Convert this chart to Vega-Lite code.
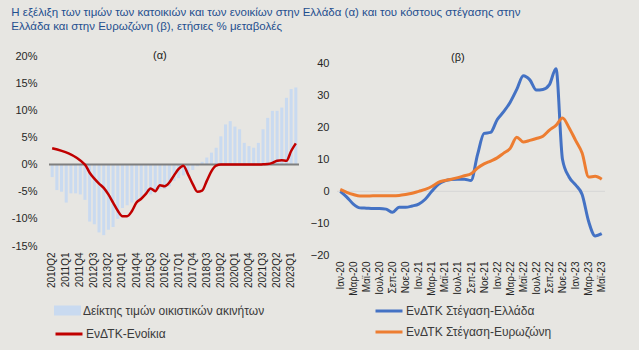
{
 "$schema": "https://vega.github.io/schema/vega-lite/v6.json",
 "background": "#e7e6e2",
 "padding": {"left": 11, "top": 6, "right": 33, "bottom": 10},
 "autosize": {"type": "pad"},
 "title": {"text": ["Η εξέλιξη των τιμών των κατοικιών και των ενοικίων στην Ελλάδα (α) και του κόστους στέγασης στην", "Ελλάδα και στην Ευρωζώνη (β), ετήσιες % μεταβολές"], "anchor": "start", "frame": "bounds", "font": "Liberation Sans", "fontSize": 11.5, "fontWeight": "normal", "color": "#1f4f8f", "lineHeight": 14, "offset": 18},
 "config": {"view": {"stroke": null}, "font": "Liberation Sans", "axis": {"labelColor": "#262626", "labelFont": "Liberation Sans", "labelOverlap": false}, "axisY": {"labelOverlap": false, "labelSeparation": 0}, "axisQuantitative": {"labelOverlap": false}, "legend": {"labelFont": "Liberation Sans", "labelColor": "#3a3a3a", "labelFontSize": 12, "padding": 0, "labelLimit": 0}},
 "spacing": 38,
 "bounds": "flush",
 "resolve": {"scale": {"color": "independent", "fill": "independent", "stroke": "independent"}},
 "datasets": {
  "prices": [
   {"q": "2010Q2", "v": -2.3}, {"q": "2010Q3", "v": -4.7}, {"q": "2010Q4", "v": -5.0}, {"q": "2011Q1", "v": -7.0},
   {"q": "2011Q2", "v": -5.3}, {"q": "2011Q3", "v": -5.3}, {"q": "2011Q4", "v": -5.5}, {"q": "2012Q1", "v": -6.5},
   {"q": "2012Q2", "v": -10.5}, {"q": "2012Q3", "v": -11.0}, {"q": "2012Q4", "v": -12.5}, {"q": "2013Q1", "v": -13.0},
   {"q": "2013Q2", "v": -12.0}, {"q": "2013Q3", "v": -11.5}, {"q": "2013Q4", "v": -10.0}, {"q": "2014Q1", "v": -8.0},
   {"q": "2014Q2", "v": -7.5}, {"q": "2014Q3", "v": -7.0}, {"q": "2014Q4", "v": -6.5}, {"q": "2015Q1", "v": -6.0},
   {"q": "2015Q2", "v": -5.5}, {"q": "2015Q3", "v": -5.5}, {"q": "2015Q4", "v": -5.0}, {"q": "2016Q1", "v": -4.5},
   {"q": "2016Q2", "v": -4.5}, {"q": "2016Q3", "v": -4.0}, {"q": "2016Q4", "v": -3.0}, {"q": "2017Q1", "v": -2.5},
   {"q": "2017Q2", "v": -2.0}, {"q": "2017Q3", "v": -1.5}, {"q": "2017Q4", "v": -1.0}, {"q": "2018Q1", "v": -0.3},
   {"q": "2018Q2", "v": 0.5}, {"q": "2018Q3", "v": 1.3}, {"q": "2018Q4", "v": 2.2}, {"q": "2019Q1", "v": 3.1},
   {"q": "2019Q2", "v": 5.2}, {"q": "2019Q3", "v": 7.4}, {"q": "2019Q4", "v": 8.0}, {"q": "2020Q1", "v": 7.0},
   {"q": "2020Q2", "v": 6.5}, {"q": "2020Q3", "v": 4.0}, {"q": "2020Q4", "v": 3.4}, {"q": "2021Q1", "v": 3.1},
   {"q": "2021Q2", "v": 4.0}, {"q": "2021Q3", "v": 6.5}, {"q": "2021Q4", "v": 8.6}, {"q": "2022Q1", "v": 9.9},
   {"q": "2022Q2", "v": 9.9}, {"q": "2022Q3", "v": 10.5}, {"q": "2022Q4", "v": 12.3}, {"q": "2023Q1", "v": 13.9},
   {"q": "2023Q2", "v": 14.2}
  ],
  "rents": [
   {"q": "2010Q2", "v": 3.0}, {"q": "2012Q1", "v": 0.0}, {"q": "2012Q2", "v": -1.5}, {"q": "2012Q3", "v": -2.6},
   {"q": "2012Q4", "v": -3.5}, {"q": "2013Q1", "v": -4.3}, {"q": "2013Q2", "v": -5.5}, {"q": "2013Q3", "v": -7.0},
   {"q": "2013Q4", "v": -8.5}, {"q": "2014Q1", "v": -9.5}, {"q": "2014Q2", "v": -9.5}, {"q": "2014Q3", "v": -8.6},
   {"q": "2014Q4", "v": -7.0}, {"q": "2015Q1", "v": -6.3}, {"q": "2015Q2", "v": -5.4}, {"q": "2015Q3", "v": -4.4},
   {"q": "2015Q4", "v": -4.9}, {"q": "2016Q1", "v": -3.8}, {"q": "2016Q2", "v": -4.0}, {"q": "2016Q3", "v": -3.3},
   {"q": "2016Q4", "v": -2.0}, {"q": "2017Q1", "v": -0.8}, {"q": "2017Q2", "v": -0.2}, {"q": "2017Q3", "v": -1.8},
   {"q": "2017Q4", "v": -3.6}, {"q": "2018Q1", "v": -5.0}, {"q": "2018Q2", "v": -4.8}, {"q": "2018Q3", "v": -3.0},
   {"q": "2018Q4", "v": -1.2}, {"q": "2019Q1", "v": -0.2}, {"q": "2019Q2", "v": 0.0}, {"q": "2019Q3", "v": 0.0},
   {"q": "2019Q4", "v": 0.0}, {"q": "2020Q1", "v": 0.0}, {"q": "2020Q2", "v": 0.0}, {"q": "2020Q3", "v": 0.0},
   {"q": "2020Q4", "v": 0.0}, {"q": "2021Q1", "v": 0.0}, {"q": "2021Q2", "v": 0.0}, {"q": "2021Q3", "v": 0.05},
   {"q": "2021Q4", "v": 0.1}, {"q": "2022Q1", "v": 0.3}, {"q": "2022Q2", "v": 0.7}, {"q": "2022Q3", "v": 0.8},
   {"q": "2022Q4", "v": 0.7}, {"q": "2023Q1", "v": 2.5}, {"q": "2023Q2", "v": 3.9}
  ],
  "housing": [
   {"m": "Ιαν-20", "s": "ΕνΔΤΚ Στέγαση-Ελλάδα", "v": 0.0}, {"m": "Φεβ-20", "s": "ΕνΔΤΚ Στέγαση-Ελλάδα", "v": -1.8},
   {"m": "Μαρ-20", "s": "ΕνΔΤΚ Στέγαση-Ελλάδα", "v": -4.0}, {"m": "Απρ-20", "s": "ΕνΔΤΚ Στέγαση-Ελλάδα", "v": -5.2},
   {"m": "Μαϊ-20", "s": "ΕνΔΤΚ Στέγαση-Ελλάδα", "v": -5.3}, {"m": "Ιουν-20", "s": "ΕνΔΤΚ Στέγαση-Ελλάδα", "v": -5.4},
   {"m": "Ιουλ-20", "s": "ΕνΔΤΚ Στέγαση-Ελλάδα", "v": -5.4}, {"m": "Αυγ-20", "s": "ΕνΔΤΚ Στέγαση-Ελλάδα", "v": -5.6},
   {"m": "Σεπ-20", "s": "ΕνΔΤΚ Στέγαση-Ελλάδα", "v": -6.6}, {"m": "Οκτ-20", "s": "ΕνΔΤΚ Στέγαση-Ελλάδα", "v": -5.0},
   {"m": "Νοε-20", "s": "ΕνΔΤΚ Στέγαση-Ελλάδα", "v": -5.0}, {"m": "Δεκ-20", "s": "ΕνΔΤΚ Στέγαση-Ελλάδα", "v": -4.6},
   {"m": "Ιαν-21", "s": "ΕνΔΤΚ Στέγαση-Ελλάδα", "v": -4.0}, {"m": "Φεβ-21", "s": "ΕνΔΤΚ Στέγαση-Ελλάδα", "v": -2.5},
   {"m": "Μαρ-21", "s": "ΕνΔΤΚ Στέγαση-Ελλάδα", "v": 0.0}, {"m": "Απρ-21", "s": "ΕνΔΤΚ Στέγαση-Ελλάδα", "v": 2.2},
   {"m": "Μαϊ-21", "s": "ΕνΔΤΚ Στέγαση-Ελλάδα", "v": 3.3}, {"m": "Ιουν-21", "s": "ΕνΔΤΚ Στέγαση-Ελλάδα", "v": 3.7},
   {"m": "Ιουλ-21", "s": "ΕνΔΤΚ Στέγαση-Ελλάδα", "v": 3.8}, {"m": "Αυγ-21", "s": "ΕνΔΤΚ Στέγαση-Ελλάδα", "v": 3.8},
   {"m": "Σεπ-21", "s": "ΕνΔΤΚ Στέγαση-Ελλάδα", "v": 3.4}, {"m": "Οκτ-21", "s": "ΕνΔΤΚ Στέγαση-Ελλάδα", "v": 11.5},
   {"m": "Νοε-21", "s": "ΕνΔΤΚ Στέγαση-Ελλάδα", "v": 18.2}, {"m": "Δεκ-21", "s": "ΕνΔΤΚ Στέγαση-Ελλάδα", "v": 18.5},
   {"m": "Ιαν-22", "s": "ΕνΔΤΚ Στέγαση-Ελλάδα", "v": 22.5}, {"m": "Φεβ-22", "s": "ΕνΔΤΚ Στέγαση-Ελλάδα", "v": 25.0},
   {"m": "Μαρ-22", "s": "ΕνΔΤΚ Στέγαση-Ελλάδα", "v": 28.0}, {"m": "Απρ-22", "s": "ΕνΔΤΚ Στέγαση-Ελλάδα", "v": 32.0},
   {"m": "Μαϊ-22", "s": "ΕνΔΤΚ Στέγαση-Ελλάδα", "v": 36.3}, {"m": "Ιουν-22", "s": "ΕνΔΤΚ Στέγαση-Ελλάδα", "v": 35.0},
   {"m": "Ιουλ-22", "s": "ΕνΔΤΚ Στέγαση-Ελλάδα", "v": 31.8}, {"m": "Αυγ-22", "s": "ΕνΔΤΚ Στέγαση-Ελλάδα", "v": 32.0},
   {"m": "Σεπ-22", "s": "ΕνΔΤΚ Στέγαση-Ελλάδα", "v": 33.5}, {"m": "Οκτ-22", "s": "ΕνΔΤΚ Στέγαση-Ελλάδα", "v": 38.5},
   {"m": "Νοε-22", "s": "ΕνΔΤΚ Στέγαση-Ελλάδα", "v": 10.0}, {"m": "Δεκ-22", "s": "ΕνΔΤΚ Στέγαση-Ελλάδα", "v": 4.5},
   {"m": "Ιαν-23", "s": "ΕνΔΤΚ Στέγαση-Ελλάδα", "v": 2.0}, {"m": "Φεβ-23", "s": "ΕνΔΤΚ Στέγαση-Ελλάδα", "v": -1.0},
   {"m": "Μαρ-23", "s": "ΕνΔΤΚ Στέγαση-Ελλάδα", "v": -9.5}, {"m": "Απρ-23", "s": "ΕνΔΤΚ Στέγαση-Ελλάδα", "v": -14.0},
   {"m": "Μαϊ-23", "s": "ΕνΔΤΚ Στέγαση-Ελλάδα", "v": -13.3},
   {"m": "Ιαν-20", "s": "ΕνΔΤΚ Στέγαση-Ευρωζώνη", "v": 0.6}, {"m": "Φεβ-20", "s": "ΕνΔΤΚ Στέγαση-Ευρωζώνη", "v": -0.3},
   {"m": "Μαρ-20", "s": "ΕνΔΤΚ Στέγαση-Ευρωζώνη", "v": -1.0}, {"m": "Απρ-20", "s": "ΕνΔΤΚ Στέγαση-Ευρωζώνη", "v": -1.5},
   {"m": "Μαϊ-20", "s": "ΕνΔΤΚ Στέγαση-Ευρωζώνη", "v": -1.5}, {"m": "Ιουν-20", "s": "ΕνΔΤΚ Στέγαση-Ευρωζώνη", "v": -1.4},
   {"m": "Ιουλ-20", "s": "ΕνΔΤΚ Στέγαση-Ευρωζώνη", "v": -1.4}, {"m": "Αυγ-20", "s": "ΕνΔΤΚ Στέγαση-Ευρωζώνη", "v": -1.4},
   {"m": "Σεπ-20", "s": "ΕνΔΤΚ Στέγαση-Ευρωζώνη", "v": -1.4}, {"m": "Οκτ-20", "s": "ΕνΔΤΚ Στέγαση-Ευρωζώνη", "v": -1.3},
   {"m": "Νοε-20", "s": "ΕνΔΤΚ Στέγαση-Ευρωζώνη", "v": -1.0}, {"m": "Δεκ-20", "s": "ΕνΔΤΚ Στέγαση-Ευρωζώνη", "v": -0.6},
   {"m": "Ιαν-21", "s": "ΕνΔΤΚ Στέγαση-Ευρωζώνη", "v": 0.0}, {"m": "Φεβ-21", "s": "ΕνΔΤΚ Στέγαση-Ευρωζώνη", "v": 0.6},
   {"m": "Μαρ-21", "s": "ΕνΔΤΚ Στέγαση-Ευρωζώνη", "v": 1.5}, {"m": "Απρ-21", "s": "ΕνΔΤΚ Στέγαση-Ευρωζώνη", "v": 2.8},
   {"m": "Μαϊ-21", "s": "ΕνΔΤΚ Στέγαση-Ευρωζώνη", "v": 3.4}, {"m": "Ιουν-21", "s": "ΕνΔΤΚ Στέγαση-Ευρωζώνη", "v": 3.8},
   {"m": "Ιουλ-21", "s": "ΕνΔΤΚ Στέγαση-Ευρωζώνη", "v": 4.3}, {"m": "Αυγ-21", "s": "ΕνΔΤΚ Στέγαση-Ευρωζώνη", "v": 4.9},
   {"m": "Σεπ-21", "s": "ΕνΔΤΚ Στέγαση-Ευρωζώνη", "v": 5.5}, {"m": "Οκτ-21", "s": "ΕνΔΤΚ Στέγαση-Ευρωζώνη", "v": 7.3},
   {"m": "Νοε-21", "s": "ΕνΔΤΚ Στέγαση-Ευρωζώνη", "v": 8.6}, {"m": "Δεκ-21", "s": "ΕνΔΤΚ Στέγαση-Ευρωζώνη", "v": 9.5},
   {"m": "Ιαν-22", "s": "ΕνΔΤΚ Στέγαση-Ευρωζώνη", "v": 10.5}, {"m": "Φεβ-22", "s": "ΕνΔΤΚ Στέγαση-Ευρωζώνη", "v": 12.0},
   {"m": "Μαρ-22", "s": "ΕνΔΤΚ Στέγαση-Ευρωζώνη", "v": 13.5}, {"m": "Απρ-22", "s": "ΕνΔΤΚ Στέγαση-Ευρωζώνη", "v": 17.0},
   {"m": "Μαϊ-22", "s": "ΕνΔΤΚ Στέγαση-Ευρωζώνη", "v": 15.5}, {"m": "Ιουν-22", "s": "ΕνΔΤΚ Στέγαση-Ευρωζώνη", "v": 16.0},
   {"m": "Ιουλ-22", "s": "ΕνΔΤΚ Στέγαση-Ευρωζώνη", "v": 16.6}, {"m": "Αυγ-22", "s": "ΕνΔΤΚ Στέγαση-Ευρωζώνη", "v": 17.3},
   {"m": "Σεπ-22", "s": "ΕνΔΤΚ Στέγαση-Ευρωζώνη", "v": 19.2}, {"m": "Οκτ-22", "s": "ΕνΔΤΚ Στέγαση-Ευρωζώνη", "v": 20.7},
   {"m": "Νοε-22", "s": "ΕνΔΤΚ Στέγαση-Ευρωζώνη", "v": 23.0}, {"m": "Δεκ-22", "s": "ΕνΔΤΚ Στέγαση-Ευρωζώνη", "v": 20.0},
   {"m": "Ιαν-23", "s": "ΕνΔΤΚ Στέγαση-Ευρωζώνη", "v": 16.0}, {"m": "Φεβ-23", "s": "ΕνΔΤΚ Στέγαση-Ευρωζώνη", "v": 12.0},
   {"m": "Μαρ-23", "s": "ΕνΔΤΚ Στέγαση-Ευρωζώνη", "v": 4.5}, {"m": "Απρ-23", "s": "ΕνΔΤΚ Στέγαση-Ευρωζώνη", "v": 4.7},
   {"m": "Μαϊ-23", "s": "ΕνΔΤΚ Στέγαση-Ευρωζώνη", "v": 3.8}
  ]
 },
 "hconcat": [
  {
   "width": 250, "height": 190,
   "layer": [
    {
     "data": {"name": "prices"},
     "mark": {"type": "bar"},
     "encoding": {
      "x": {"field": "q", "type": "ordinal", "scale": {"paddingInner": 0.35, "paddingOuter": 0.35},
            "axis": {"title": null, "values": ["2010Q2","2011Q1","2011Q4","2012Q3","2013Q2","2014Q1","2014Q4","2015Q3","2016Q2","2017Q1","2017Q4","2018Q3","2019Q2","2020Q1","2020Q4","2021Q3","2022Q2","2023Q1"], "labelAngle": 270, "domain": false, "ticks": false, "labelPadding": 6, "labelFontSize": 10, "labelOverlap": false}},
      "y": {"field": "v", "type": "quantitative", "scale": {"domain": [-15, 20], "nice": false},
            "axis": {"title": null, "values": [-15, -10, -5, 0, 5, 10, 15, 20], "labelExpr": "datum.value + '%'", "grid": false, "domain": false, "ticks": false, "labelPadding": 12, "labelFontSize": 11, "labelOverlap": false, "labelSeparation": 0}},
      "fill": {"datum": "Δείκτης τιμών οικιστικών ακινήτων", "scale": {"range": ["#c9daf0"]},
               "legend": {"title": null, "orient": "none", "legendX": 5, "legendY": 241, "symbolType": "M-1,-0.37H1V0.37H-1Z", "symbolSize": 729, "symbolStrokeWidth": 0, "labelOffset": 2}}
     }
    },
    {
     "data": {"values": [{}]},
     "mark": {"type": "rule", "color": "#7f7f7f", "strokeWidth": 2},
     "encoding": {"y": {"datum": 0, "type": "quantitative",
            "axis": {"title": null, "values": [-15, -10, -5, 0, 5, 10, 15, 20], "labelExpr": "datum.value + '%'", "grid": false, "domain": false, "ticks": false, "labelPadding": 12, "labelFontSize": 11, "labelOverlap": false, "labelSeparation": 0}}}
    },
    {
     "data": {"name": "rents"},
     "mark": {"type": "line", "interpolate": "monotone", "strokeWidth": 2.5},
     "encoding": {
      "x": {"field": "q", "type": "ordinal"},
      "y": {"field": "v", "type": "quantitative",
            "axis": {"title": null, "values": [-15, -10, -5, 0, 5, 10, 15, 20], "labelExpr": "datum.value + '%'", "grid": false, "domain": false, "ticks": false, "labelPadding": 12, "labelFontSize": 11, "labelOverlap": false, "labelSeparation": 0}},
      "stroke": {"datum": "ΕνΔΤΚ-Ενοίκια", "scale": {"range": ["#c00000"]},
                 "legend": {"title": null, "orient": "none", "legendX": 5, "legendY": 263, "symbolType": "stroke", "symbolSize": 729, "symbolStrokeWidth": 3, "labelOffset": 2}}
     }
    },
    {
     "data": {"values": [{}]},
     "mark": {"type": "text", "text": "(α)", "fontSize": 11, "color": "#1a1a1a"},
     "encoding": {"x": {"datum": "2016Q1", "type": "ordinal"}, "y": {"datum": 20, "type": "quantitative",
            "axis": {"title": null, "values": [-15, -10, -5, 0, 5, 10, 15, 20], "labelExpr": "datum.value + '%'", "grid": false, "domain": false, "ticks": false, "labelPadding": 12, "labelFontSize": 11, "labelOverlap": false, "labelSeparation": 0}}}
    }
   ]
  },
  {
   "width": 268, "height": 199,
   "layer": [
    {
     "data": {"values": [{}]},
     "mark": {"type": "rule", "color": "#d6d6d6", "strokeWidth": 1},
     "encoding": {"y": {"datum": 0, "type": "quantitative",
            "axis": {"title": null, "values": [-20, -10, 0, 10, 20, 30, 40], "grid": false, "domain": false, "ticks": false, "labelPadding": 8, "labelFontSize": 11, "labelOverlap": false, "labelSeparation": 0}}}
    },
    {
     "data": {"name": "housing"},
     "mark": {"type": "line", "interpolate": "monotone", "strokeWidth": 3},
     "encoding": {
      "x": {"field": "m", "type": "ordinal",
            "scale": {"type": "point", "padding": 0.5, "domain": ["Ιαν-20","Φεβ-20","Μαρ-20","Απρ-20","Μαϊ-20","Ιουν-20","Ιουλ-20","Αυγ-20","Σεπ-20","Οκτ-20","Νοε-20","Δεκ-20","Ιαν-21","Φεβ-21","Μαρ-21","Απρ-21","Μαϊ-21","Ιουν-21","Ιουλ-21","Αυγ-21","Σεπ-21","Οκτ-21","Νοε-21","Δεκ-21","Ιαν-22","Φεβ-22","Μαρ-22","Απρ-22","Μαϊ-22","Ιουν-22","Ιουλ-22","Αυγ-22","Σεπ-22","Οκτ-22","Νοε-22","Δεκ-22","Ιαν-23","Φεβ-23","Μαρ-23","Απρ-23","Μαϊ-23"]},
            "axis": {"title": null, "values": ["Ιαν-20","Μαρ-20","Μαϊ-20","Ιουλ-20","Σεπ-20","Νοε-20","Ιαν-21","Μαρ-21","Μαϊ-21","Ιουλ-21","Σεπ-21","Νοε-21","Ιαν-22","Μαρ-22","Μαϊ-22","Ιουλ-22","Σεπ-22","Νοε-22","Ιαν-23","Μαρ-23","Μαϊ-23"], "labelAngle": 270, "domain": false, "ticks": false, "labelPadding": 6, "labelFontSize": 10, "labelOverlap": false}},
      "y": {"field": "v", "type": "quantitative", "scale": {"domain": [-20, 42.5], "nice": false},
            "axis": {"title": null, "values": [-20, -10, 0, 10, 20, 30, 40], "grid": false, "domain": false, "ticks": false, "labelPadding": 8, "labelFontSize": 11, "labelOverlap": false, "labelSeparation": 0}},
      "color": {"field": "s", "type": "nominal", "scale": {"domain": ["ΕνΔΤΚ Στέγαση-Ελλάδα", "ΕνΔΤΚ Στέγαση-Ευρωζώνη"], "range": ["#4472c4", "#ed7d31"]},
                "legend": {"title": null, "orient": "none", "direction": "vertical", "legendX": 37, "legendY": 240, "symbolType": "stroke", "symbolSize": 729, "symbolStrokeWidth": 3, "labelOffset": 2, "rowPadding": -5}}
     }
    },
    {
     "data": {"values": [{}]},
     "mark": {"type": "text", "text": "(β)", "fontSize": 11, "color": "#1a1a1a"},
     "encoding": {"x": {"datum": "Ιουλ-21", "type": "ordinal"}, "y": {"datum": 42, "type": "quantitative",
            "axis": {"title": null, "values": [-20, -10, 0, 10, 20, 30, 40], "grid": false, "domain": false, "ticks": false, "labelPadding": 8, "labelFontSize": 11, "labelOverlap": false, "labelSeparation": 0}}}
    }
   ]
  }
 ]
}
